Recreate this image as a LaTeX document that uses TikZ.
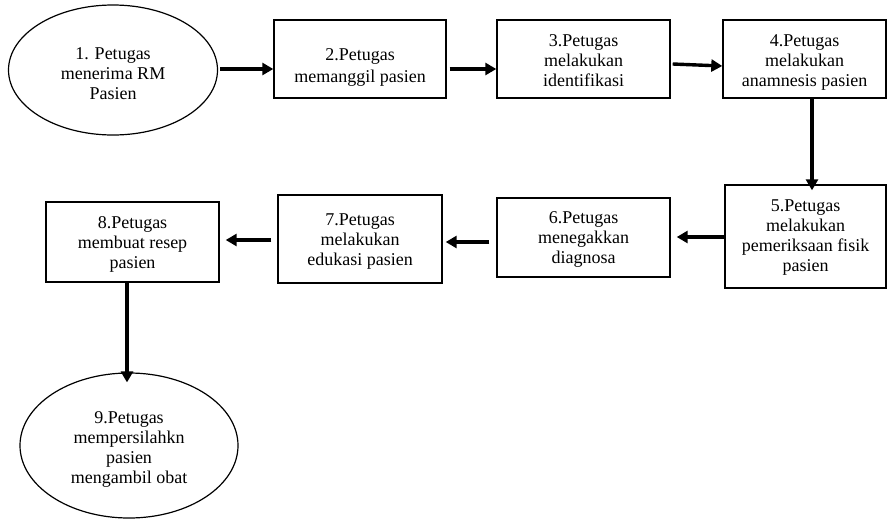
\documentclass[tikz,border=0pt]{standalone}
\usepackage{fontspec}
\setmainfont{Liberation Serif}
\usetikzlibrary{shapes.geometric,arrows.meta}
\newcommand\lowtx[2]{\raisebox{-#1}[\height][\depth]{\begin{tabular}{@{}c@{}}#2\end{tabular}}}
\begin{document}
\begin{tikzpicture}[x=1pt,y=-1pt,
  box/.style={draw,line width=1.4pt,inner sep=0pt,font=\fontsize{18}{20}\selectfont},
  oval/.style={draw,ellipse,line width=1.2pt,inner sep=0pt,font=\fontsize{18}{20}\selectfont},
  arr/.style={line width=3.4pt,-{Triangle[length=11pt,width=12pt]}}]
\useasboundingbox (0,0) rectangle (888,520);
\node[oval,minimum width=209pt,minimum height=130pt] (n1) at (113,70) {\lowtx{5pt}{1. Petugas\\menerima RM\\Pasien}};
\node[box,minimum width=172pt,minimum height=78pt] (n2) at (360,59) {\lowtx{8pt}{2.Petugas\\[2pt]memanggil pasien}};
\node[box,minimum width=173pt,minimum height=78pt] (n3) at (583.5,59) {\lowtx{3pt}{3.Petugas\\melakukan\\identifikasi}};
\node[box,minimum width=163pt,minimum height=78pt] (n4) at (804.5,59) {\lowtx{3pt}{4.Petugas\\melakukan\\anamnesis pasien}};
\node[box,minimum width=161pt,minimum height=103pt] (n5) at (805.5,236.5) {\lowtx{1pt}{5.Petugas\\melakukan\\pemeriksaan fisik\\pasien}};
\node[box,minimum width=173pt,minimum height=79pt] (n6) at (583.5,237.5) {\lowtx{2pt}{6.Petugas\\menegakkan\\diagnosa}};
\node[box,minimum width=164pt,minimum height=88pt] (n7) at (360,239) {\lowtx{2pt}{7.Petugas\\melakukan\\edukasi pasien}};
\node[box,minimum width=173pt,minimum height=80pt] (n8) at (132.5,242) {\lowtx{2pt}{8.Petugas\\membuat resep\\pasien}};
\node[oval,minimum width=218pt,minimum height=145pt] (n9) at (129,445.5) {\lowtx{4pt}{9.Petugas\\mempersilahkn\\pasien\\mengambil obat}};
\draw[arr] ([xshift=2pt]n1.east |- 0,69) -- (n2.west |- 0,69);
\draw[arr] (n2.east |- 0,69) ++(3,0) -- (n3.west |- 0,69);
\draw[arr] (n3.east |- 0,64) ++(2,0) -- (n4.west |- 0,66);
\draw[arr] (n4.south -| 812,0) -- ([yshift=-6pt]n5.north -| 812,0);
\draw[arr] (n5.west |- 0,237) -- ([xshift=6pt]n6.east |- 0,237);
\draw[arr] ([xshift=-7pt]n6.west |- 0,242) -- ([xshift=3pt]n7.east |- 0,242);
\draw[arr] ([xshift=-6pt]n7.west |- 0,240) -- ([xshift=6pt]n8.east |- 0,240);
\draw[arr] (n8.south -| 127,0) -- ([yshift=-10pt]n9.north -| 127,0);
\end{tikzpicture}
\end{document}
